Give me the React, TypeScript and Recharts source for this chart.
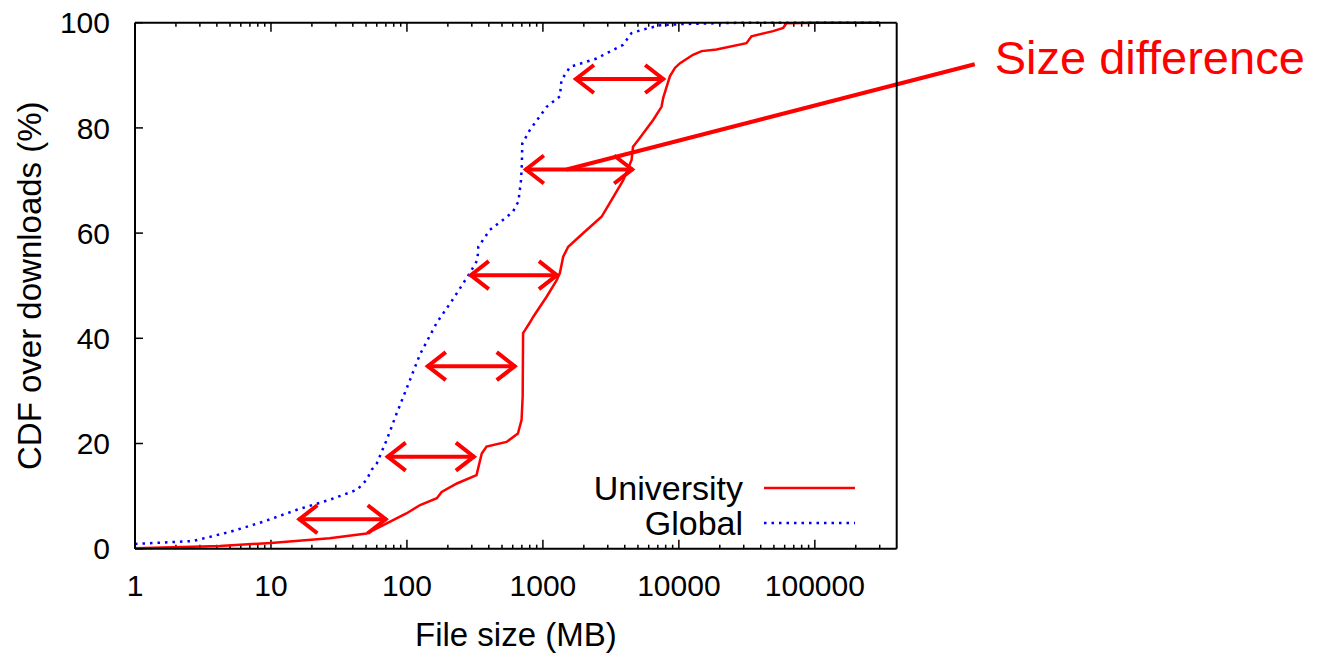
import { LineChart, Line, XAxis, YAxis, ReferenceLine, Legend } from "recharts";

const FONT = "'Liberation Sans', Arial, Helvetica, sans-serif";
const RED = "#ff0000";
const BLUE = "#0000ff";

// CDF of file sizes (MB) for University downloads
const universitySizes = [
  1, 4.2, 10, 27, 50.5, 71, 99, 125, 166, 180, 233, 325, 355, 385, 540, 655, 697, 710, 715, 737,
  802, 850, 1065, 1260, 1333, 1410, 1535, 2040, 2700, 3100, 3890, 4490, 4600, 5030, 6470, 7450,
  7670, 8590, 9350, 10200, 12700, 14700, 18900, 31400, 34200, 49300, 58500, 61700, 100000, 300000,
];
const universityCdf = [
  0.1, 0.5, 1.1, 2.0, 2.9, 4.8, 6.7, 8.3, 9.6, 10.8, 12.4, 14.0, 18.1, 19.4, 20.3, 21.9, 24.5, 29,
  41, 41.5, 43, 44.1, 47.9, 51, 52.4, 55.5, 57.4, 60.3, 63.1, 65.7, 70, 73.9, 76.4, 77.7, 81.5, 84,
  85.7, 89.8, 91.4, 92.3, 93.9, 94.6, 94.9, 96.1, 97.4, 98.4, 99, 99.9, 100, 100,
];

// CDF of file sizes (MB) for Global downloads
const globalSizes = [
  1, 2.67, 5, 8.7, 15.5, 27, 43, 50.5, 55, 60, 71, 84, 105, 125, 166, 219, 290, 330, 335, 407, 508,
  600, 660, 690, 700, 705, 802, 1065, 1333, 1370, 1585, 2483, 3890, 4470, 5460, 7250, 10700, 30000,
  300000,
];
const globalCdf = [
  0.9, 1.46, 3.2, 5.1, 7.4, 9.3, 11.2, 13.1, 15, 16.2, 20.7, 25.7, 32, 37, 43, 47.5, 52.4, 54.9,
  57.4, 60.6, 62.5, 64, 66, 70, 73, 77, 79.6, 84, 86, 89.1, 91.6, 93.2, 95.8, 98, 98.7, 99.5, 99.75,
  100, 100,
];

// double arrows: level (%) and the two sizes they join
const arrowLevels = [5.6, 17.5, 34.7, 52, 72.1, 89.3];
const arrowFrom = [15.9, 71, 140, 290, 737, 1720];
const arrowTo = [71, 316, 631, 1290, 4610, 7800];

// pointer from an arrow to the "Size difference" note
const pointerFrom = { x: 1494, y: 72.1 };
const pointerTo = { x: 1500000, y: 92.1 };

const majorTicks = [1, 10, 100, 1000, 10000, 100000];
const minorTicks: number[] = [];
for (const d of majorTicks) {
  for (let m = 2; m <= 9; m++) {
    if (d * m < 400000) minorTicks.push(d * m);
  }
}
const yTicks = [0, 20, 40, 60, 80, 100];

const universityData = universitySizes.map((size, i) => ({ size, cdf: universityCdf[i] }));
const globalData = globalSizes.map((size, i) => ({ size, cdf: globalCdf[i] }));

const series = [
  { name: "University", color: RED, dash: undefined as string | undefined },
  { name: "Global", color: BLUE, dash: "2.5 5" },
];

function Arrow(props: any) {
  const { x1, y1, x2, y2 } = props;
  const head = 19;
  const spread = 14;
  return (
    <g stroke={RED} strokeWidth={4} fill="none" strokeLinejoin="miter">
      <line x1={x1} y1={y1} x2={x2} y2={y2} />
      <polyline points={`${x1 + head},${y1 - spread} ${x1 + 1},${y1} ${x1 + head},${y1 + spread}`} />
      <polyline points={`${x2 - head},${y2 - spread} ${x2 - 1},${y2} ${x2 - head},${y2 + spread}`} />
    </g>
  );
}

function Pointer(props: any) {
  const { x1, y1, x2, y2 } = props;
  return (
    <g>
      <line x1={x1} y1={y1} x2={x2} y2={y2} stroke={RED} strokeWidth={4} />
      <text x={x2 + 20} y={y2 + 10} fill={RED} fontSize={47} fontFamily={FONT}>
        Size difference
      </text>
    </g>
  );
}

// short inward tick at the bottom and top of a vertical reference line
function xTickMark(len: number) {
  return (props: any) => {
    const { x1, y1, y2 } = props;
    const bottom = Math.max(y1, y2);
    const top = Math.min(y1, y2);
    return (
      <g stroke="#000" strokeWidth={1.5}>
        <line x1={x1} y1={bottom} x2={x1} y2={bottom - len} />
        <line x1={x1} y1={top} x2={x1} y2={top + len} />
      </g>
    );
  };
}

// short inward tick at the left end of a horizontal reference line
function yTickMark(props: any) {
  const { x1, x2, y1 } = props;
  const left = Math.min(x1, x2);
  return <line x1={left} y1={y1} x2={left + 8} y2={y1} stroke="#000" strokeWidth={1.5} />;
}

const majorMark = xTickMark(9);
const minorMark = xTickMark(4);

function LegendBox() {
  return (
    <div style={{ fontFamily: FONT, fontSize: 34, color: "#000" }}>
      {series.map((s) => (
        <div key={s.name} style={{ display: "flex", alignItems: "center", height: 35 }}>
          <span style={{ width: 200, textAlign: "right", lineHeight: "35px" }}>{s.name}</span>
          <svg width={91} height={10} style={{ marginLeft: 21 }}>
            <line x1={0} y1={5} x2={91} y2={5} stroke={s.color} strokeWidth={2.5} strokeDasharray={s.dash} />
          </svg>
        </div>
      ))}
    </div>
  );
}

const axisLine = { stroke: "#000", strokeWidth: 2 };
const tickFont = { fill: "#000", fontSize: 30, fontFamily: FONT };
const logDomain: [number, number] = [1, 400000];

export default function App() {
  return (
    <LineChart width={1310} height={645} margin={{ top: 14.7, right: 421.3, bottom: 103.3, left: 0 }}>
      <XAxis
        type="number"
        dataKey="size"
        scale="log"
        domain={logDomain}
        allowDataOverflow
        ticks={majorTicks}
        interval={0}
        height={1}
        tickSize={0}
        tickMargin={26}
        axisLine={axisLine}
        tickLine={false}
        tick={tickFont}
        label={(p: any) => {
          const vb = p.viewBox;
          return (
            <text x={vb.x + vb.width / 2} y={vb.y + 97} textAnchor="middle" fontSize={33} fontFamily={FONT} fill="#000">
              File size (MB)
            </text>
          );
        }}
      />
      <XAxis
        xAxisId="top"
        orientation="top"
        mirror
        type="number"
        scale="log"
        domain={logDomain}
        allowDataOverflow
        ticks={majorTicks}
        height={1}
        axisLine={axisLine}
        tickLine={false}
        tick={false}
      />
      <YAxis
        type="number"
        domain={[0, 100]}
        ticks={yTicks}
        interval={0}
        width={127}
        tickSize={0}
        tickMargin={25}
        axisLine={axisLine}
        tickLine={false}
        tick={tickFont}
        label={(p: any) => {
          const vb = p.viewBox;
          const cx = vb.x + 22;
          const cy = vb.y + vb.height / 2;
          return (
            <text
              x={cx}
              y={cy}
              transform={`rotate(-90, ${cx}, ${cy})`}
              textAnchor="middle"
              dominantBaseline="central"
              fontSize={33}
              fontFamily={FONT}
              fill="#000"
            >
              CDF over downloads (%)
            </text>
          );
        }}
      />
      <YAxis
        yAxisId="right"
        orientation="right"
        mirror
        type="number"
        domain={[0, 100]}
        width={1}
        axisLine={axisLine}
        tickLine={false}
        tick={false}
      />
      {majorTicks.map((v) => (
        <ReferenceLine key={`M${v}`} x={v} shape={majorMark} />
      ))}
      {minorTicks.map((v) => (
        <ReferenceLine key={`m${v}`} x={v} shape={minorMark} />
      ))}
      {yTicks.map((v) => (
        <ReferenceLine key={`y${v}`} y={v} shape={yTickMark} />
      ))}
      <Line
        data={universityData}
        dataKey="cdf"
        name="University"
        type="linear"
        stroke={RED}
        strokeWidth={2.5}
        dot={false}
        activeDot={false}
        isAnimationActive={false}
      />
      <Line
        data={globalData}
        dataKey="cdf"
        name="Global"
        type="linear"
        stroke={BLUE}
        strokeWidth={2.5}
        strokeDasharray="2.5 5"
        dot={false}
        activeDot={false}
        isAnimationActive={false}
      />
      {arrowLevels.map((lvl, i) => (
        <ReferenceLine
          key={i}
          segment={[
            { x: arrowFrom[i], y: lvl },
            { x: arrowTo[i], y: lvl },
          ]}
          ifOverflow="visible"
          shape={Arrow}
        />
      ))}
      <ReferenceLine segment={[pointerFrom, pointerTo]} ifOverflow="visible" shape={Pointer} />
      <Legend
        layout="vertical"
        align="center"
        verticalAlign="middle"
        content={() => <LegendBox />}
        wrapperStyle={{ left: 535, top: 462.5, width: 330, height: 70 }}
      />
    </LineChart>
  );
}
